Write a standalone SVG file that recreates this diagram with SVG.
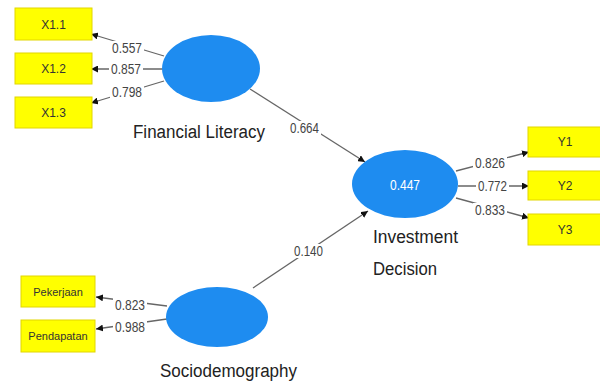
<svg xmlns="http://www.w3.org/2000/svg" width="600" height="383" viewBox="0 0 600 383">
<defs>
<marker id="arr" viewBox="0 0 10 10" refX="10" refY="5" markerWidth="7" markerHeight="7" orient="auto" markerUnits="userSpaceOnUse">
<path d="M0,0 L10,5 L0,10 z" fill="#111"/>
</marker>
<style>
.box{fill:#FFFF00;stroke:#E2D600;stroke-width:1}
.lv{fill:#1E8CF0}
.bt{font-family:"Liberation Sans",Arial,sans-serif;font-size:12px;fill:#333;text-anchor:middle}
.cn{font-family:"Liberation Sans",Arial,sans-serif;font-size:18px;fill:#222}
.w{font-family:"Liberation Sans",Arial,sans-serif;font-size:14px;fill:#444}
.bg{fill:#fff}
.ln{stroke:#666;stroke-width:1.3;fill:none;marker-end:url(#arr)}
</style>
</defs>
<rect width="600" height="383" fill="#fff"/>
<g id="connectors">
<line class="ln" x1="164" y1="56" x2="91" y2="34"/>
<line class="ln" x1="163" y1="69" x2="91" y2="69"/>
<line class="ln" x1="164" y1="81" x2="91" y2="103"/>
<line class="ln" x1="250" y1="89" x2="365" y2="162"/>
<line class="ln" x1="253" y1="288" x2="368" y2="211"/>
<line class="ln" x1="456" y1="171" x2="529" y2="152"/>
<line class="ln" x1="458" y1="186" x2="529" y2="186"/>
<line class="ln" x1="456" y1="198" x2="529" y2="218"/>
<line class="ln" x1="167" y1="306" x2="96" y2="297"/>
<line class="ln" x1="167" y1="319" x2="96" y2="329"/>
<rect class="bg" x="110" y="41" width="34" height="14"/>
<rect class="bg" x="109" y="62" width="34" height="14"/>
<rect class="bg" x="110" y="85" width="34" height="14"/>
<rect class="bg" x="288" y="121" width="33" height="14"/>
<rect class="bg" x="292" y="244" width="33" height="14"/>
<rect class="bg" x="473" y="156" width="34" height="14"/>
<rect class="bg" x="476" y="179" width="33" height="14"/>
<rect class="bg" x="473" y="203" width="34" height="14"/>
<rect class="bg" x="113" y="298" width="34" height="14"/>
<rect class="bg" x="113" y="320" width="34" height="14"/>
<text class="w" x="112" y="53" textLength="30" lengthAdjust="spacingAndGlyphs">0.557</text>
<text class="w" x="111" y="74" textLength="30" lengthAdjust="spacingAndGlyphs">0.857</text>
<text class="w" x="112" y="97" textLength="30" lengthAdjust="spacingAndGlyphs">0.798</text>
<text class="w" x="290" y="133" textLength="29" lengthAdjust="spacingAndGlyphs">0.664</text>
<text class="w" x="294" y="256" textLength="29" lengthAdjust="spacingAndGlyphs">0.140</text>
<text class="w" x="475" y="168" textLength="30" lengthAdjust="spacingAndGlyphs">0.826</text>
<text class="w" x="478" y="191" textLength="29" lengthAdjust="spacingAndGlyphs">0.772</text>
<text class="w" x="475" y="215" textLength="30" lengthAdjust="spacingAndGlyphs">0.833</text>
<text class="w" x="115" y="310" textLength="30" lengthAdjust="spacingAndGlyphs">0.823</text>
<text class="w" x="115" y="332" textLength="30" lengthAdjust="spacingAndGlyphs">0.988</text>
</g>
<g id="X1.1"><rect class="box" x="15" y="8" width="77" height="32"/><text class="bt" x="53.5" y="28.5">X1.1</text></g>
<g id="X1.2"><rect class="box" x="15" y="53" width="77" height="31"/><text class="bt" x="53.5" y="73">X1.2</text></g>
<g id="X1.3"><rect class="box" x="15" y="97" width="77" height="31"/><text class="bt" x="53.5" y="117">X1.3</text></g>
<g id="Y1"><rect class="box" x="528" y="127" width="76" height="30"/><text class="bt" x="565" y="146">Y1</text></g>
<g id="Y2"><rect class="box" x="528" y="171" width="76" height="29"/><text class="bt" x="565" y="190">Y2</text></g>
<g id="Y3"><rect class="box" x="528" y="214" width="76" height="31"/><text class="bt" x="565" y="234">Y3</text></g>
<g id="Pekerjaan"><rect class="box" x="21" y="276" width="74" height="31"/><text class="bt" x="58" y="296" style="font-size:11px">Pekerjaan</text></g>
<g id="Pendapatan"><rect class="box" x="21" y="320" width="74" height="32"/><text class="bt" x="58" y="340" style="font-size:11px">Pendapatan</text></g>
<g id="FinancialLiteracy"><ellipse class="lv" cx="211" cy="68.5" rx="49" ry="33.5"/><text class="cn" x="133" y="138" textLength="132" lengthAdjust="spacingAndGlyphs">Financial Literacy</text></g>
<g id="InvestmentDecision"><ellipse class="lv" cx="405" cy="184" rx="53" ry="34"/><text x="405" y="190" style="font-family:'Liberation Sans',Arial,sans-serif;font-size:14px;fill:#fff;text-anchor:middle" textLength="30" lengthAdjust="spacingAndGlyphs">0.447</text><text class="cn" x="373" y="243" textLength="85" lengthAdjust="spacingAndGlyphs">Investment</text><text class="cn" x="373" y="275" textLength="64" lengthAdjust="spacingAndGlyphs">Decision</text></g>
<g id="Sociodemography"><ellipse class="lv" cx="217" cy="317" rx="51" ry="30"/><text class="cn" x="160" y="377" textLength="137" lengthAdjust="spacingAndGlyphs">Sociodemography</text></g>
</svg>
